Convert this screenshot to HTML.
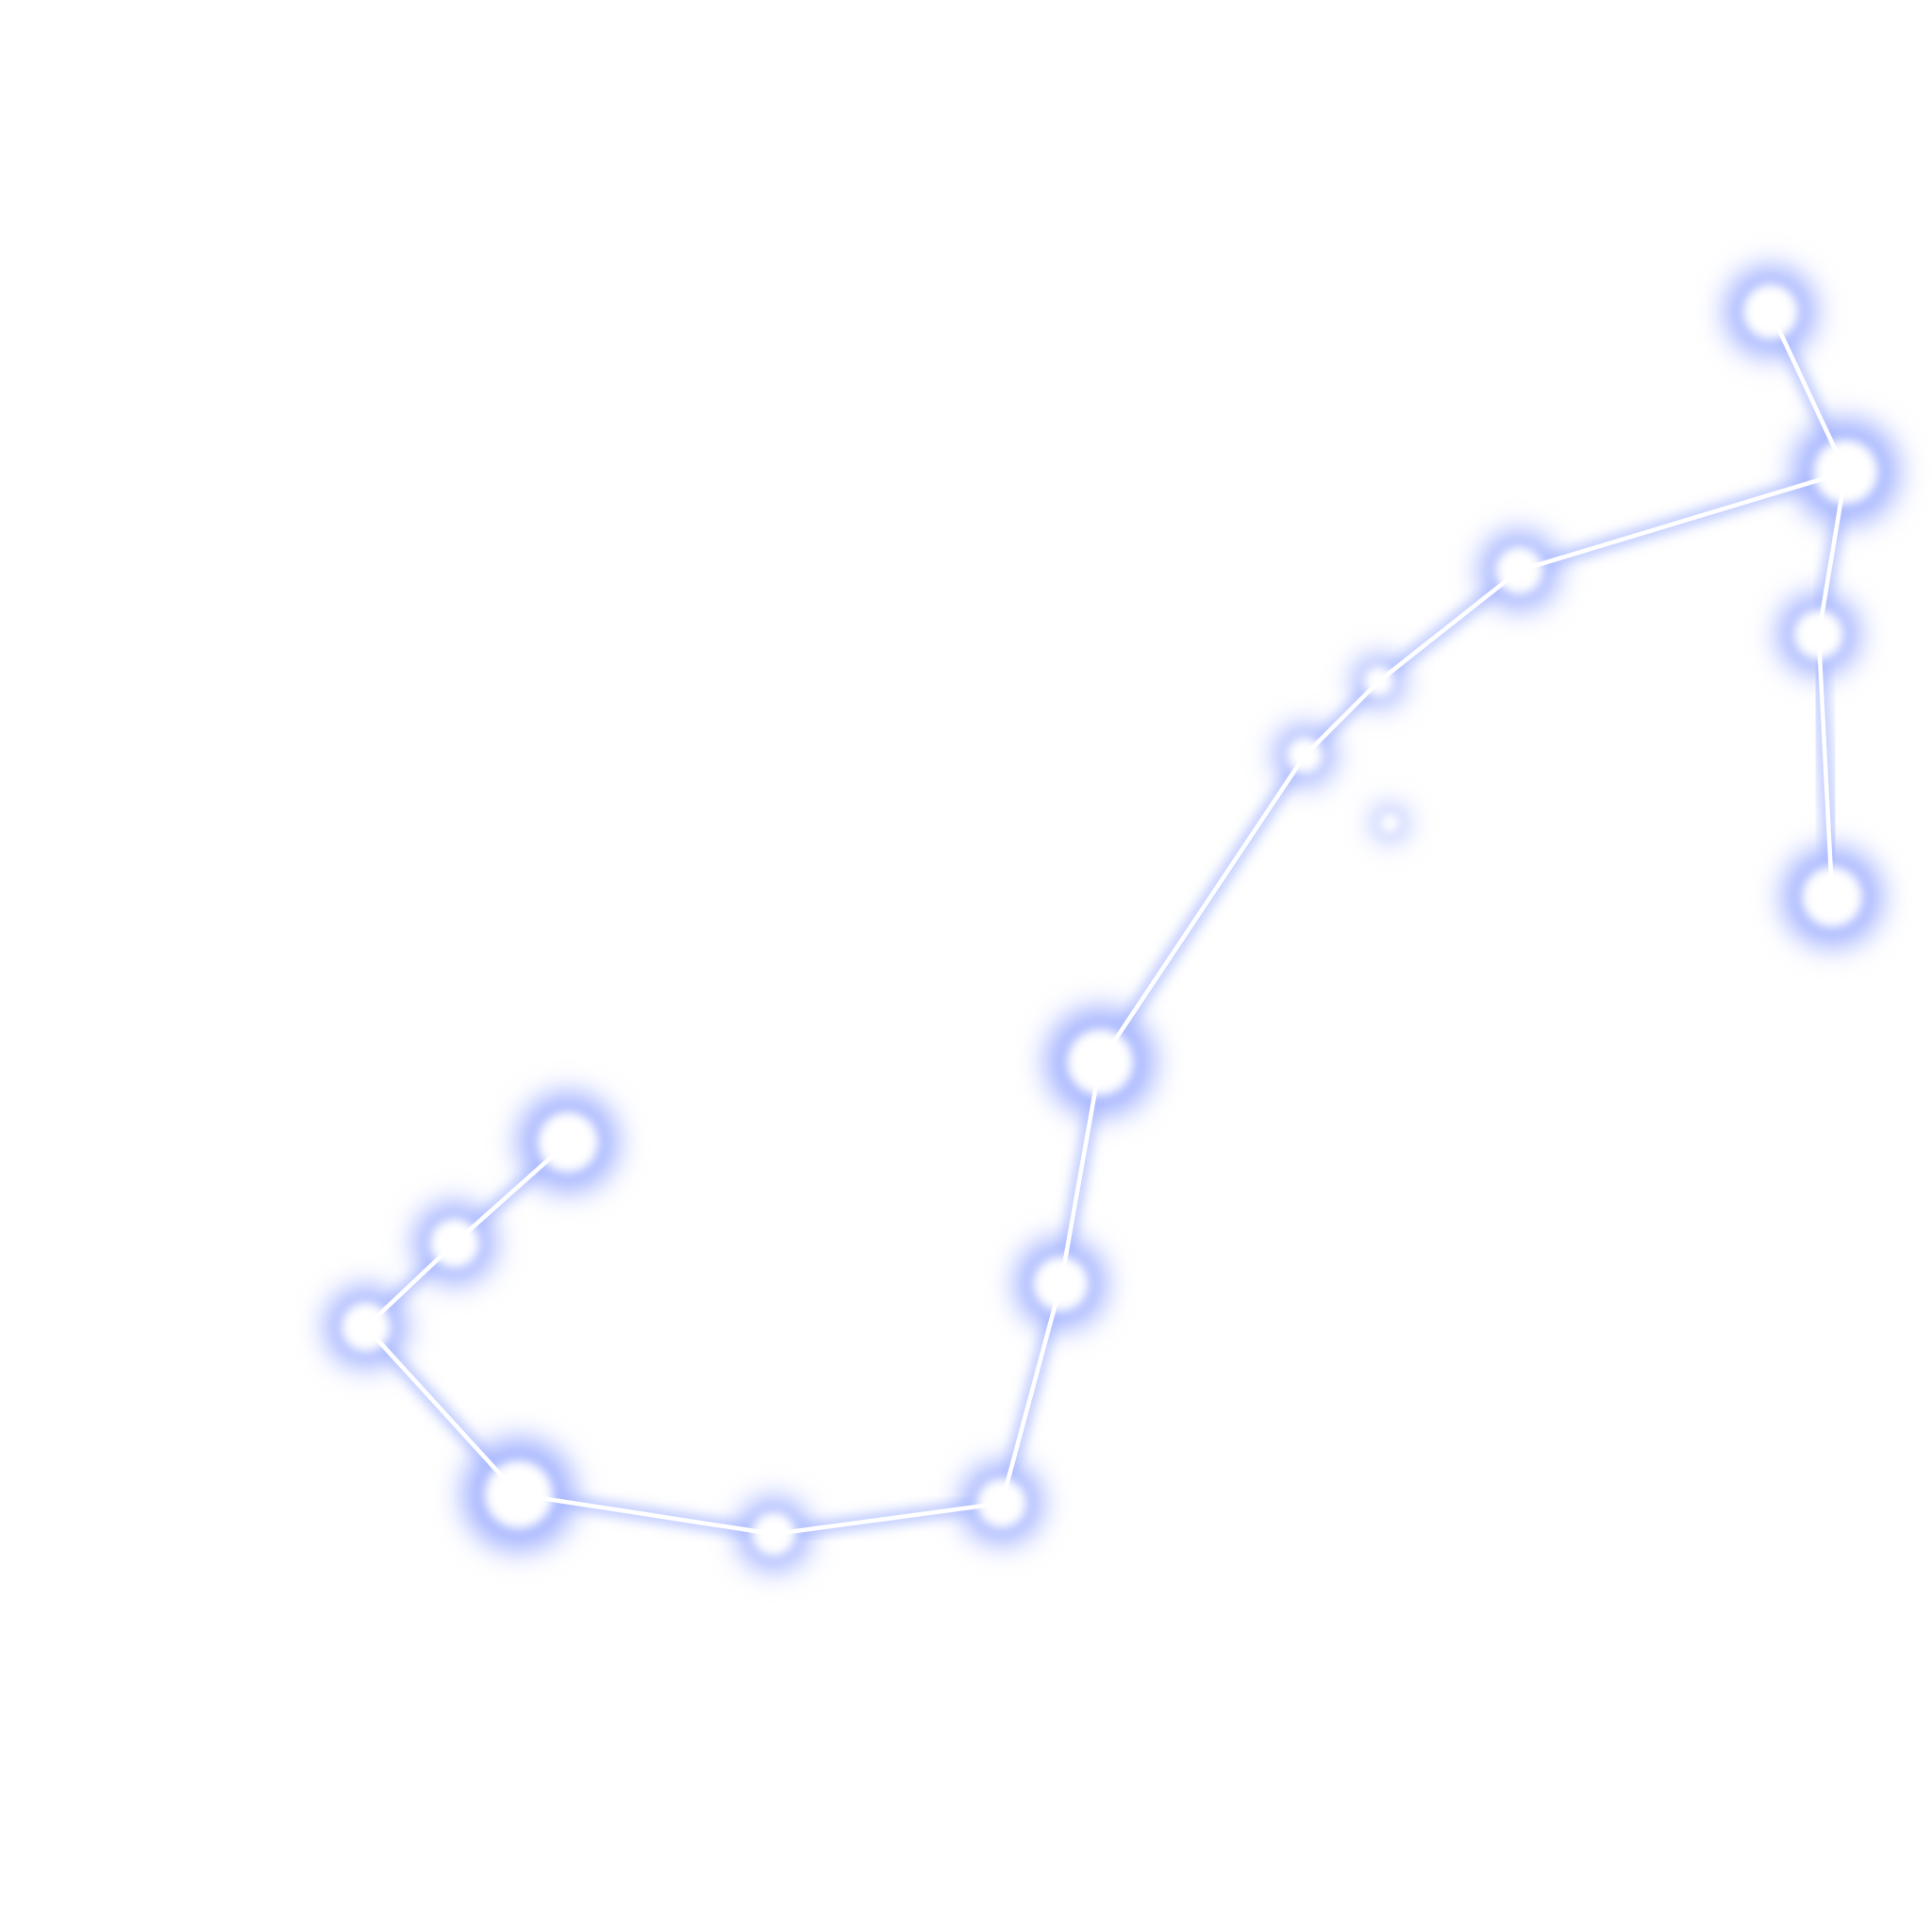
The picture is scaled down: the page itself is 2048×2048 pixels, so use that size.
<!DOCTYPE html>
<html><head><meta charset="utf-8"><style>html,body{margin:0;padding:0;background:#fff}svg{display:block}</style></head>
<body>
<svg id="chart" width="2048" height="2048" viewBox="0 0 1568 1568" xmlns="http://www.w3.org/2000/svg">
<defs>
<filter id="glow" x="-100%" y="-100%" width="300%" height="300%"><feGaussianBlur stdDeviation="11"/></filter>
<filter id="core" x="-100%" y="-100%" width="300%" height="300%"><feGaussianBlur stdDeviation="4"/></filter>
<filter id="lglow" x="-20%" y="-20%" width="140%" height="140%"><feGaussianBlur stdDeviation="5"/></filter>
</defs>
<g id="glows"></g>
<g id="lines"></g>
<g id="cores"></g>
</svg>
<script>
const starX = [1437,1498,1476,1487,1233,1119,1059,1128,893,861,813,628,421,297,369,461];
const starY = [253,383,515,728,463,553,613,668,862,1042,1220,1245,1213,1077,1009,927];
const starR = [30,35,27,33,26,17,20,11,36,30,27,24,37,27,27,33];
const edgeFrom = [0,1,2,1,4,5,6,8,9,10,11,12,13,14];
const edgeTo   = [1,2,3,4,5,6,8,9,10,11,12,13,14,15];
const NS='http://www.w3.org/2000/svg';
const gG=document.getElementById('glows'),gL=document.getElementById('lines'),gC=document.getElementById('cores');
const sx=i=>starX[i], sy=i=>starY[i];
for(let k=0;k<edgeFrom.length;k++){
  const a=edgeFrom[k],b=edgeTo[k];
  const g=document.createElementNS(NS,'line');
  
  
  g.setAttribute('x1',sx(a));g.setAttribute('y1',sy(a));g.setAttribute('x2',sx(b));g.setAttribute('y2',sy(b));
  g.setAttribute('stroke','#a8b8ff');g.setAttribute('stroke-width','11');g.setAttribute('stroke-opacity','0.8');g.setAttribute('filter','url(#lglow)');
  gL.appendChild(g);
  const l=document.createElementNS(NS,'line');
  
  
  l.setAttribute('x1',sx(a));l.setAttribute('y1',sy(a));l.setAttribute('x2',sx(b));l.setAttribute('y2',sy(b));
  l.setAttribute('stroke','#ffffff');l.setAttribute('stroke-width','3.5');
  gL.appendChild(l);
}
for(let i=0;i<starX.length;i++){
  const h=document.createElementNS(NS,'circle');
  
  
  h.setAttribute('cx',sx(i));h.setAttribute('cy',sy(i));h.setAttribute('r',starR[i]*1.25);
  h.setAttribute('fill','#a4b4ff');h.setAttribute('filter','url(#glow)');
  gG.appendChild(h);
  const c=document.createElementNS(NS,'circle');
  
  
  c.setAttribute('cx',sx(i));c.setAttribute('cy',sy(i));c.setAttribute('r',starR[i]*0.75);
  c.setAttribute('fill','#ffffff');c.setAttribute('filter','url(#core)');
  gC.appendChild(c);
}
</script>
</body></html>
